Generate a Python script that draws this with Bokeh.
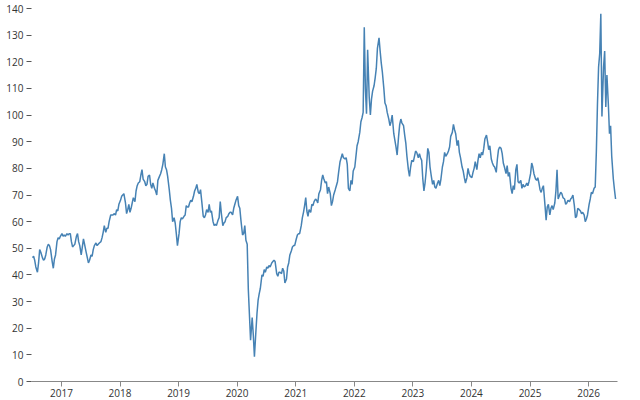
import pandas as pd
from bokeh.plotting import figure
from bokeh.models import Range1d, SingleIntervalTicker, DatetimeTickFormatter, YearsTicker, ColumnDataSource
from bokeh.embed import file_html
from bokeh.resources import INLINE

# Approximate price series, four readings per month
y2016 = [46.5, 47.0, 45.5, 43.0,  41.0, 44.5, 49.5, 48.5,  46.5, 45.5, 46.0, 47.5,
         50.5, 51.5, 51.0, 49.5,  45.0, 42.5, 46.0, 47.5,  52.5, 54.0, 53.5, 54.5]
y2017 = [55.5, 54.5, 55.0, 54.5,  55.5, 55.0, 55.5, 55.5,  52.5, 50.5, 51.0, 51.5,
         54.5, 55.5, 52.5, 51.0,  47.5, 50.5, 53.5, 51.5,  48.5, 46.5, 44.5, 45.5,
         47.5, 47.0, 49.5, 51.0,  52.0, 51.0, 51.5, 52.0,  52.5, 54.0, 56.0, 58.5,
         56.0, 57.5, 57.5, 60.0,  62.5, 62.5, 62.5, 63.0,  62.5, 64.5, 64.0, 66.5]
y2018 = [68.0, 69.5, 70.0, 70.5,  67.0, 63.0, 64.5, 66.5,  63.5, 65.0, 67.0, 69.0,
         67.5, 71.5, 73.5, 74.5,  75.0, 77.5, 79.5, 76.0,  75.0, 73.5, 74.0, 77.0,
         77.5, 74.0, 72.5, 74.5,  72.5, 71.5, 70.0, 75.5,  77.0, 78.0, 79.5, 81.5,
         85.5, 80.5, 79.5, 77.0,  72.0, 68.0, 65.0, 60.0,  61.5, 59.5, 55.5, 51.0]
y2019 = [55.5, 60.0, 61.5, 61.0,  62.0, 62.5, 66.0, 65.5,  65.5, 67.0, 68.0, 67.5,
         69.5, 71.5, 72.5, 74.0,  71.0, 70.5, 72.0, 68.0,  62.0, 61.5, 62.5, 64.5,
         63.5, 66.5, 63.5, 64.0,  60.0, 58.5, 59.0, 58.5,  60.5, 61.5, 67.5, 63.0,
         58.5, 59.5, 60.0, 61.5,  62.0, 63.0, 63.5, 63.5,  62.5, 65.0, 66.5, 68.0]
y2020 = [69.5, 66.0, 65.0, 60.5,  55.0, 55.5, 58.5, 53.0,  51.5, 34.5, 25.0, 15.5,
         24.0, 17.5, 9.3, 16.5,  25.5, 30.5, 33.0, 35.0,  40.0, 39.5, 42.0, 41.0,
         43.0, 42.5, 43.5, 43.0,  44.5, 45.0, 45.5, 45.0,  40.5, 39.5, 41.0, 41.0,
         40.5, 42.5, 41.5, 37.0,  38.5, 43.0, 44.5, 47.5,  49.0, 50.5, 51.0, 51.0]
y2021 = [53.5, 55.0, 55.5, 55.5,  58.5, 61.5, 63.5, 66.0,  69.0, 64.0, 62.0, 64.5,
         63.5, 66.5, 66.0, 67.5,  68.5, 68.0, 67.0, 70.5,  72.0, 75.5, 77.5, 76.0,
         74.5, 75.0, 70.5, 73.0,  70.5, 66.0, 67.5, 70.0,  72.0, 73.5, 75.0, 78.5,
         82.5, 84.0, 85.5, 84.0,  83.5, 84.0, 81.5, 72.5,  71.5, 75.5, 74.0, 79.0]
y2022 = [80.5, 84.5, 88.5, 90.0,  93.5, 97.5, 99.0, 101.0,  133.0, 110.0, 100.5, 124.5,
         106.5, 100.0, 106.0, 109.0,  111.0, 114.0, 117.5, 125.0,  129.0, 124.0, 119.5, 116.0,
         110.0, 104.5, 103.5, 101.0,  98.5, 96.0, 97.5, 100.0,  93.0, 90.5, 88.0, 85.0,
         92.0, 96.5, 98.5, 97.0,  96.0, 92.5, 89.5, 84.5,  79.5, 77.0, 80.5, 83.0]
y2023 = [82.5, 84.5, 86.5, 86.0,  84.0, 85.5, 84.0, 83.0,  76.0, 71.5, 74.5, 79.0,
         87.5, 86.0, 80.5, 77.5,  74.0, 75.5, 73.0, 72.5,  74.5, 75.5, 73.5, 76.0,
         80.5, 82.5, 86.0, 84.5,  85.5, 86.5, 88.0, 92.0,  93.5, 96.5, 94.5, 93.0,
         88.5, 90.5, 86.0, 84.0,  80.5, 79.0, 76.5, 74.5,  76.5, 80.0, 78.0, 77.0]
y2024 = [76.5, 78.5, 80.0, 82.5,  79.5, 83.0, 85.5, 84.0,  86.0, 85.0, 87.5, 91.0,
         92.5, 90.0, 87.0, 88.5,  83.5, 82.0, 81.0, 80.5,  78.5, 83.5, 87.0, 88.0,
         87.5, 85.5, 82.0, 80.5,  78.0, 81.0, 77.0, 78.5,  72.5, 70.5, 73.5, 72.0,
         79.5, 81.5, 75.0, 74.5,  75.5, 72.5, 74.0, 73.0,  73.5, 74.5, 73.5, 75.0]
y2025 = [78.0, 82.0, 80.5, 78.0,  76.0, 75.5, 76.5, 74.5,  72.0, 71.0, 72.5, 73.5,
         66.0, 60.5, 65.5, 66.5,  62.5, 65.0, 66.0, 64.5,  67.0, 71.5, 79.5, 68.5,
         70.0, 71.0, 70.5, 69.0,  68.5, 66.5, 67.0, 68.0,  67.5, 68.5, 69.0, 70.0,
         66.0, 61.5, 62.0, 65.0,  64.5, 64.0, 63.0, 63.5,  62.5, 60.0, 61.0, 62.5]
y2026 = [66.5, 68.5, 71.0, 70.5,  72.5, 73.0, 86.0, 104.0,  118.0, 123.0, 138.0, 99.5,
         118.0, 124.0, 103.0, 115.0,  104.0, 93.0, 96.0, 84.5,  76.0, 72.0, 68.5]

values = y2016 + y2017 + y2018 + y2019 + y2020 + y2021 + y2022 + y2023 + y2024 + y2025 + y2026

months = pd.date_range("2016-07-01", "2026-06-01", freq="MS")
day_offsets = [3, 10, 17, 24]
dates = [m + pd.Timedelta(days=d) for m in months for d in day_offsets][:len(values)]

source = ColumnDataSource(data=dict(date=dates, value=values))

p = figure(
    width=640, height=400,
    x_axis_type="datetime",
    x_range=Range1d(pd.Timestamp("2016-06-28"), pd.Timestamp("2026-06-30")),
    y_range=Range1d(0, 140),
    output_backend="svg", toolbar_location=None,
    min_border_left=31, min_border_right=23, min_border_top=8, min_border_bottom=19,
    outline_line_color=None, background_fill_color="white", border_fill_color="white",
)

p.line("date", "value", source=source, line_color="#4682b4", line_width=1.5)

p.xgrid.visible = False
p.ygrid.visible = False

font = "Open Sans"
xa = p.xaxis[0]
xa.ticker = YearsTicker(desired_num_ticks=10)
xa.formatter = DatetimeTickFormatter(years="%Y", months="%Y", days="%Y")
xa.minor_tick_line_color = None
xa.axis_line_color = "#888888"
xa.major_tick_line_color = "#888888"
xa.major_tick_out = 5
xa.major_tick_in = 0
xa.major_label_standoff = 2
xa.major_label_text_font = font
xa.major_label_text_font_size = "10px"
xa.major_label_text_color = "#333333"

ya = p.yaxis[0]
ya.ticker = SingleIntervalTicker(interval=10)
ya.minor_tick_line_color = None
ya.axis_line_color = None
ya.major_tick_line_color = "#555555"
ya.major_tick_out = 5
ya.major_tick_in = 0
ya.major_label_standoff = 3
ya.major_label_text_font = font
ya.major_label_text_font_size = "10px"
ya.major_label_text_color = "#333333"

open("out.html", "w").write(file_html(p, INLINE))
